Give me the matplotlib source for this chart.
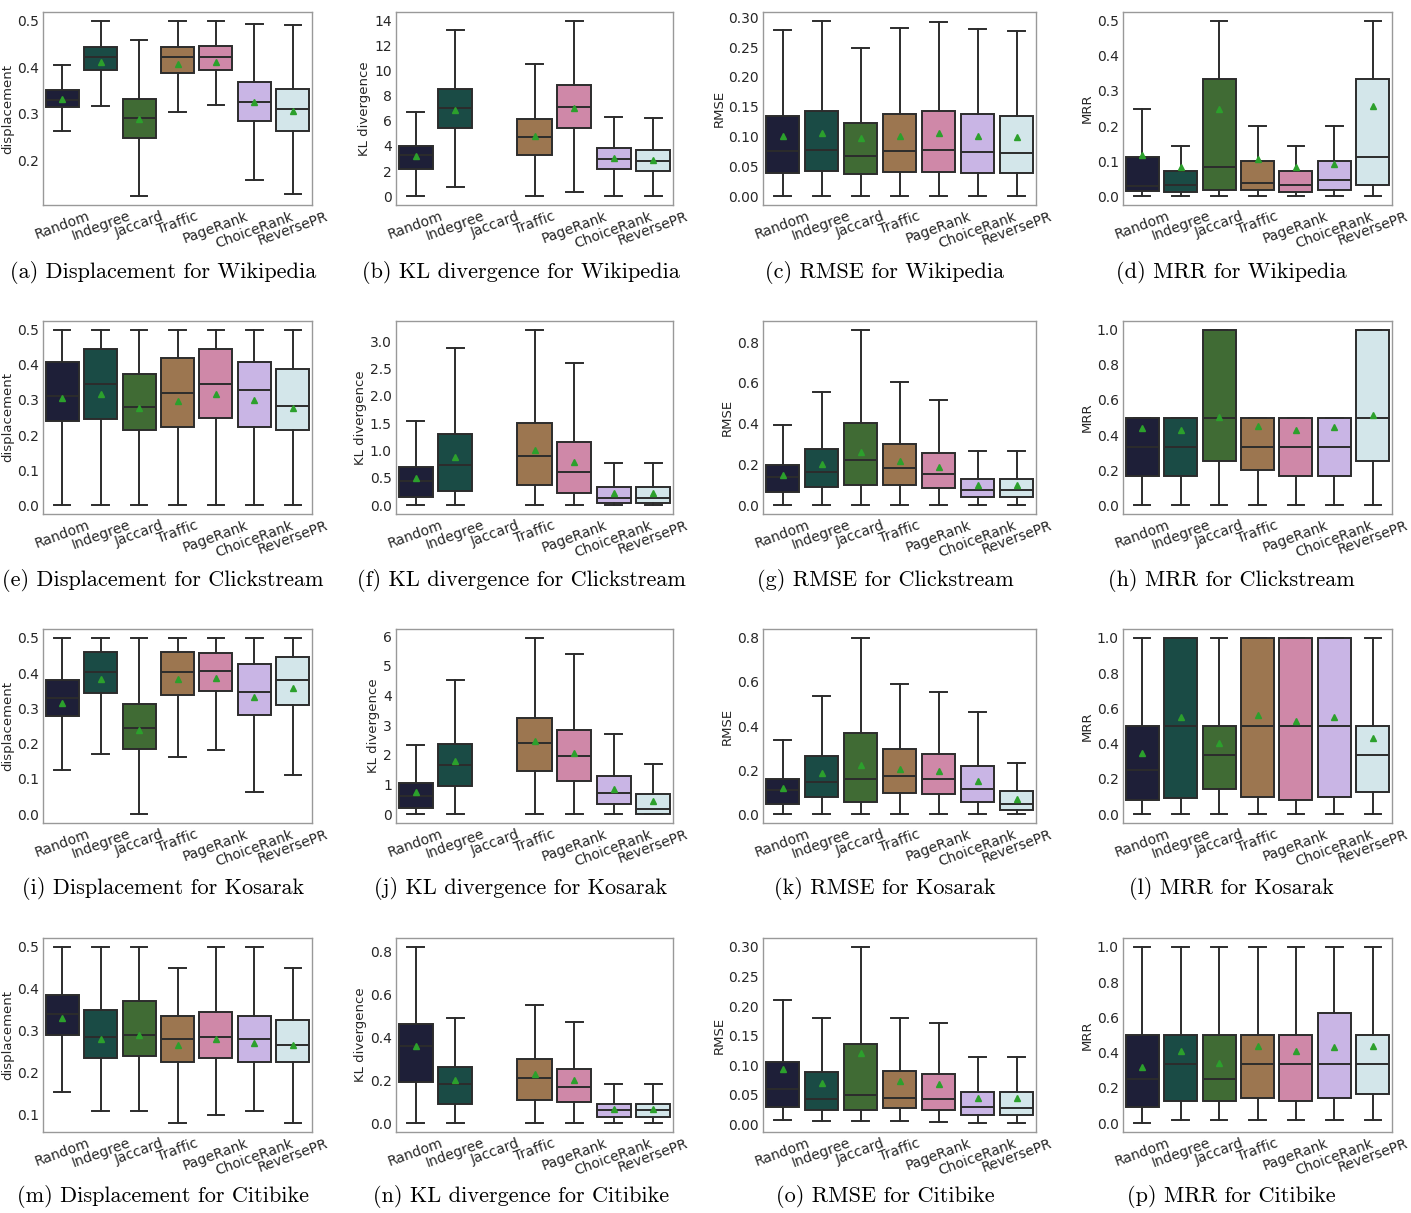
import matplotlib.pyplot as plt
from matplotlib.ticker import MultipleLocator

# metodi e colori (palette cubehelix desaturata)
methods = ['Random', 'Indegree', 'Jaccard', 'Traffic', 'PageRank', 'ChoiceRank', 'ReversePR']
colors = ['#1e1f38', '#1a4b45', '#406b34', '#9c7650', '#cf88a8', '#c9b5e5', '#d3e6ea']

# ogni riga: whislo, q1, mediana, q3, whishi, media
disp_wikipedia = [
    [0.263, 0.314, 0.330, 0.350, 0.404, 0.331],
    [0.316, 0.393, 0.421, 0.444, 0.500, 0.411],
    [0.122, 0.247, 0.291, 0.331, 0.458, 0.289],
    [0.303, 0.387, 0.421, 0.444, 0.500, 0.406],
    [0.319, 0.394, 0.423, 0.446, 0.500, 0.412],
    [0.156, 0.283, 0.324, 0.368, 0.494, 0.325],
    [0.126, 0.263, 0.309, 0.354, 0.491, 0.306],
]
kl_wikipedia = [
    [0.0, 2.19, 3.3, 4.01, 6.71, 3.17],
    [0.74, 5.41, 7.0, 8.56, 13.23, 6.87],
    None,
    [0.0, 3.30, 4.68, 6.15, 10.49, 4.75],
    [0.32, 5.41, 7.13, 8.82, 13.95, 7.0],
    [0.0, 2.17, 2.96, 3.83, 6.31, 3.04],
    [0.0, 2.01, 2.80, 3.67, 6.23, 2.85],
]
rmse_wikipedia = [
    [0.0, 0.039, 0.075, 0.135, 0.278, 0.101],
    [0.0, 0.042, 0.078, 0.143, 0.294, 0.106],
    [0.0, 0.037, 0.068, 0.122, 0.248, 0.097],
    [0.0, 0.040, 0.075, 0.137, 0.282, 0.101],
    [0.0, 0.041, 0.078, 0.142, 0.292, 0.106],
    [0.0, 0.039, 0.074, 0.137, 0.281, 0.101],
    [0.0, 0.039, 0.073, 0.135, 0.277, 0.099],
]
mrr_wikipedia = [
    [0.0, 0.015, 0.030, 0.111, 0.250, 0.117],
    [0.0, 0.012, 0.031, 0.071, 0.142, 0.082],
    [0.0, 0.018, 0.083, 0.333, 0.500, 0.249],
    [0.0, 0.0165, 0.0385, 0.099, 0.200, 0.106],
    [0.0, 0.012, 0.032, 0.071, 0.142, 0.083],
    [0.0, 0.0175, 0.045, 0.100, 0.200, 0.093],
    [0.0, 0.032, 0.112, 0.333, 0.500, 0.257],
]

disp_clickstream = [
    [0.0, 0.239, 0.310, 0.408, 0.5, 0.305],
    [0.0, 0.245, 0.345, 0.444, 0.5, 0.316],
    [0.0, 0.215, 0.281, 0.375, 0.5, 0.276],
    [0.0, 0.223, 0.320, 0.420, 0.5, 0.298],
    [0.0, 0.248, 0.346, 0.444, 0.5, 0.318],
    [0.0, 0.223, 0.327, 0.408, 0.5, 0.299],
    [0.0, 0.215, 0.282, 0.389, 0.5, 0.276],
]
kl_clickstream = [
    [0.0, 0.152, 0.45, 0.706, 1.54, 0.50],
    [0.0, 0.26, 0.73, 1.31, 2.87, 0.89],
    None,
    [0.0, 0.365, 0.90, 1.50, 3.21, 1.01],
    [0.0, 0.219, 0.608, 1.156, 2.60, 0.785],
    [0.0, 0.036, 0.14, 0.33, 0.78, 0.23],
    [0.0, 0.036, 0.14, 0.33, 0.78, 0.23],
]
rmse_clickstream = [
    [0.0, 0.065, 0.14, 0.197, 0.393, 0.148],
    [0.0, 0.091, 0.163, 0.277, 0.556, 0.200],
    [0.0, 0.098, 0.222, 0.404, 0.860, 0.261],
    [0.0, 0.098, 0.182, 0.298, 0.604, 0.215],
    [0.0, 0.086, 0.155, 0.257, 0.516, 0.189],
    [0.0, 0.042, 0.077, 0.130, 0.264, 0.098],
    [0.0, 0.042, 0.077, 0.130, 0.264, 0.098],
]
mrr_clickstream = [
    [0.0, 0.167, 0.333, 0.5, 0.5, 0.440],
    [0.0, 0.167, 0.333, 0.5, 0.5, 0.428],
    [0.0, 0.25, 0.5, 1.0, 1.0, 0.505],
    [0.0, 0.2, 0.333, 0.5, 0.5, 0.450],
    [0.0, 0.167, 0.333, 0.5, 0.5, 0.426],
    [0.0, 0.167, 0.333, 0.5, 0.5, 0.445],
    [0.0, 0.25, 0.5, 1.0, 1.0, 0.513],
]

disp_kosarak = [
    [0.125, 0.278, 0.330, 0.381, 0.5, 0.316],
    [0.172, 0.343, 0.404, 0.459, 0.5, 0.384],
    [0.0, 0.184, 0.243, 0.313, 0.5, 0.239],
    [0.161, 0.339, 0.403, 0.459, 0.5, 0.384],
    [0.183, 0.349, 0.407, 0.458, 0.5, 0.385],
    [0.062, 0.280, 0.345, 0.427, 0.5, 0.332],
    [0.111, 0.310, 0.379, 0.445, 0.5, 0.358],
]
kl_kosarak = [
    [0.0, 0.215, 0.60, 1.05, 2.33, 0.75],
    [0.0, 0.95, 1.66, 2.38, 4.52, 1.79],
    None,
    [0.0, 1.44, 2.40, 3.26, 5.95, 2.46],
    [0.0, 1.11, 1.96, 2.83, 5.42, 2.06],
    [0.0, 0.33, 0.70, 1.28, 2.70, 0.86],
    [0.0, 0.01, 0.19, 0.69, 1.68, 0.46],
]
rmse_kosarak = [
    [0.0, 0.047, 0.110, 0.161, 0.335, 0.120],
    [0.0, 0.079, 0.146, 0.263, 0.535, 0.186],
    [0.0, 0.056, 0.161, 0.368, 0.800, 0.224],
    [0.0, 0.096, 0.173, 0.295, 0.592, 0.205],
    [0.0, 0.090, 0.158, 0.274, 0.554, 0.196],
    [0.0, 0.053, 0.114, 0.219, 0.465, 0.149],
    [0.0, 0.017, 0.046, 0.105, 0.234, 0.071],
]
mrr_kosarak = [
    [0.0, 0.080, 0.25, 0.5, 1.0, 0.346],
    [0.0, 0.089, 0.5, 1.0, 1.0, 0.549],
    [0.0, 0.143, 0.333, 0.5, 1.0, 0.403],
    [0.0, 0.100, 0.5, 1.0, 1.0, 0.565],
    [0.0, 0.083, 0.5, 1.0, 1.0, 0.528],
    [0.0, 0.100, 0.5, 1.0, 1.0, 0.553],
    [0.0, 0.125, 0.333, 0.5, 1.0, 0.432],
]

disp_citibike = [
    [0.155, 0.290, 0.340, 0.385, 0.5, 0.330],
    [0.110, 0.235, 0.285, 0.350, 0.5, 0.280],
    [0.110, 0.240, 0.290, 0.370, 0.5, 0.290],
    [0.080, 0.225, 0.280, 0.335, 0.45, 0.265],
    [0.100, 0.235, 0.285, 0.345, 0.5, 0.280],
    [0.110, 0.225, 0.280, 0.335, 0.5, 0.270],
    [0.080, 0.225, 0.265, 0.325, 0.45, 0.265],
]
kl_citibike = [
    [0.0, 0.19, 0.36, 0.46, 0.82, 0.36],
    [0.0, 0.09, 0.18, 0.26, 0.49, 0.20],
    None,
    [0.0, 0.11, 0.21, 0.30, 0.55, 0.23],
    [0.0, 0.10, 0.17, 0.25, 0.47, 0.20],
    [0.0, 0.03, 0.06, 0.09, 0.18, 0.065],
    [0.0, 0.03, 0.06, 0.09, 0.18, 0.065],
]
rmse_citibike = [
    [0.008, 0.030, 0.060, 0.105, 0.210, 0.093],
    [0.005, 0.025, 0.043, 0.088, 0.180, 0.070],
    [0.005, 0.025, 0.050, 0.135, 0.300, 0.120],
    [0.005, 0.027, 0.045, 0.090, 0.180, 0.073],
    [0.004, 0.025, 0.043, 0.085, 0.172, 0.069],
    [0.002, 0.016, 0.030, 0.055, 0.113, 0.045],
    [0.002, 0.015, 0.028, 0.055, 0.113, 0.044],
]
mrr_citibike = [
    [0.0, 0.09, 0.25, 0.5, 1.0, 0.32],
    [0.02, 0.125, 0.333, 0.5, 1.0, 0.41],
    [0.02, 0.125, 0.25, 0.5, 1.0, 0.34],
    [0.02, 0.143, 0.333, 0.5, 1.0, 0.44],
    [0.02, 0.125, 0.333, 0.5, 1.0, 0.41],
    [0.02, 0.143, 0.333, 0.625, 1.0, 0.43],
    [0.02, 0.167, 0.333, 0.5, 1.0, 0.44],
]

datasets = ['Wikipedia', 'Clickstream', 'Kosarak', 'Citibike']
metric_names = ['Displacement', 'KL divergence', 'RMSE', 'MRR']
metric_ylabels = ['displacement', 'KL divergence', 'RMSE', 'MRR']
tick_steps = [
    [0.1, 2, 0.05, 0.1],
    [0.1, 0.5, 0.2, 0.2],
    [0.1, 1, 0.2, 0.2],
    [0.1, 0.2, 0.05, 0.2],
]
grid_data = [
    [disp_wikipedia, kl_wikipedia, rmse_wikipedia, mrr_wikipedia],
    [disp_clickstream, kl_clickstream, rmse_clickstream, mrr_clickstream],
    [disp_kosarak, kl_kosarak, rmse_kosarak, mrr_kosarak],
    [disp_citibike, kl_citibike, rmse_citibike, mrr_citibike],
]
letters = 'abcdefghijklmnop'

W, H = 1411, 1213
fig = plt.figure(figsize=(W / 100, H / 100), dpi=100)

# posizioni in pixel degli assi (sinistra, destra) per colonna, (alto, basso) per riga
col_x = [(43, 312), (396, 673), (763, 1036), (1123, 1392)]
row_y = [(12, 205), (321, 514), (629, 823), (938, 1132)]
caption_y = [273, 581, 889, 1197]
caption_x = [163, 521, 885, 1231]

line_col = '#2c2c2c'

for r in range(4):
    for c in range(4):
        x0, x1 = col_x[c]
        y0, y1 = row_y[r]
        ax = fig.add_axes([x0 / W, 1 - y1 / H, (x1 - x0) / W, (y1 - y0) / H])
        data = grid_data[r][c]
        stats, pos, cols = [], [], []
        for i, row in enumerate(data):
            if row is None:
                continue
            lo, q1, med, q3, hi, mean = row
            stats.append(dict(whislo=lo, q1=q1, med=med, q3=q3, whishi=hi,
                              mean=mean, fliers=[], label=methods[i]))
            pos.append(i)
            cols.append(colors[i])
        bp = ax.bxp(stats, positions=pos, widths=0.86, capwidths=0.43,
                    patch_artist=True, showmeans=True, showfliers=False,
                    boxprops=dict(edgecolor=line_col, linewidth=1.4),
                    whiskerprops=dict(color=line_col, linewidth=1.4),
                    capprops=dict(color=line_col, linewidth=1.4),
                    medianprops=dict(color=line_col, linewidth=1.4),
                    meanprops=dict(marker='^', markerfacecolor='#2ca02c',
                                   markeredgecolor='#2ca02c', markersize=5))
        for patch, col in zip(bp['boxes'], cols):
            patch.set_facecolor(col)

        ax.set_xlim(-0.5, 6.5)
        ax.set_xticks(range(7))
        ax.set_xticklabels(methods, rotation=20, ha='center', fontsize=10, color='#262626')
        ax.yaxis.set_major_locator(MultipleLocator(tick_steps[r][c]))
        ax.tick_params(axis='y', labelsize=10, labelcolor='#262626', length=0, pad=3)
        ax.tick_params(axis='x', length=0, pad=3)
        ax.set_ylabel(metric_ylabels[c], fontsize=9.5, color='#262626', labelpad=2)
        for sp in ax.spines.values():
            sp.set_color('#999999')
            sp.set_linewidth(1.0)

        k = r * 4 + c
        fig.text(caption_x[c] / W, 1 - caption_y[r] / H,
                 f'({letters[k]}) {metric_names[c]} for {datasets[r]}',
                 family='cmr10', fontsize=16, ha='center', va='center')

plt.savefig('out.png', dpi=100)
